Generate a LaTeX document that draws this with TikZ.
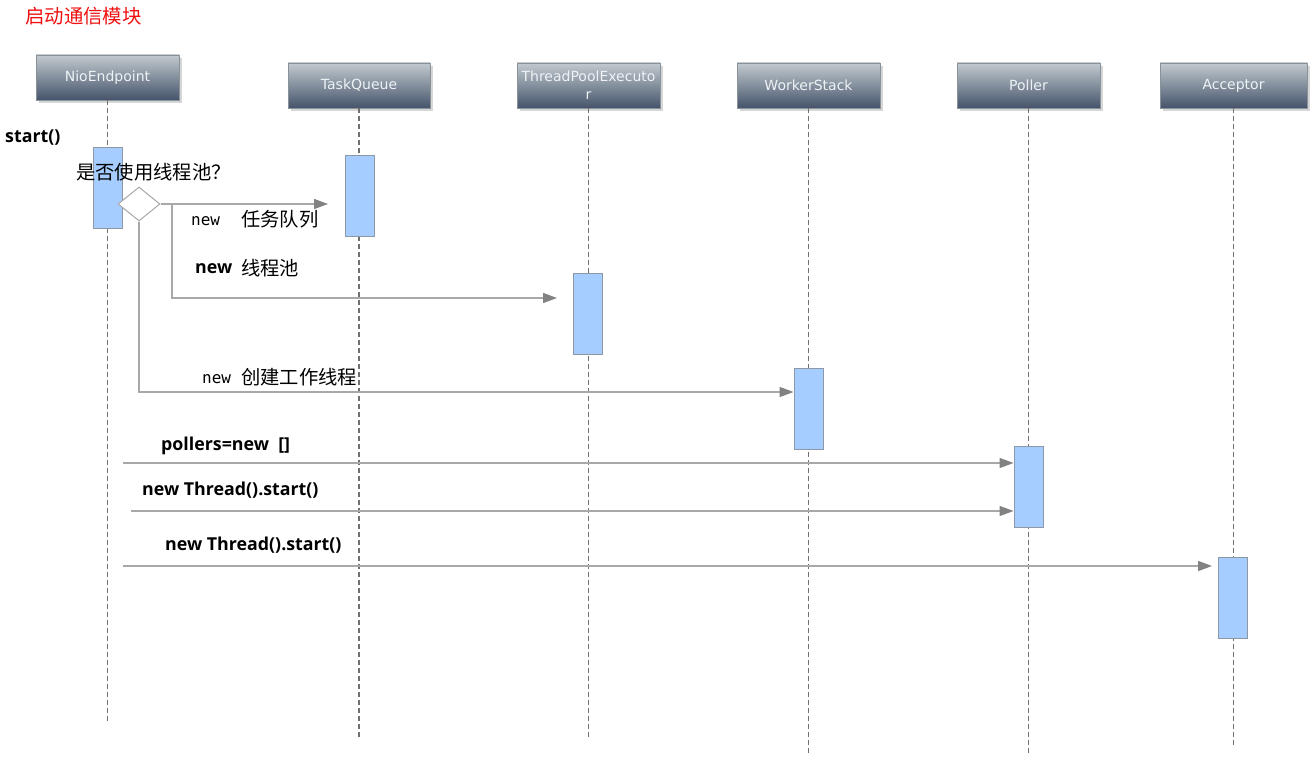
\documentclass[tikz,border=0pt]{standalone}
\usepackage{fontspec}
\usetikzlibrary{arrows.meta,shapes.geometric,shadows}
\newfontfamily\hdrfont{DejaVu Sans}
\newfontfamily\cjkfont{Noto Sans CJK SC}
\newfontfamily\lblfont{Open Sans}
\newfontfamily\codefont{DejaVu Sans Mono}
\definecolor{hdrtop}{HTML}{C2CACF}
\definecolor{hdrbot}{HTML}{45546B}
\definecolor{hdrline}{HTML}{8A9299}
\definecolor{hdrtext}{HTML}{EEF2F5}
\definecolor{barfill}{HTML}{A6CDFF}
\definecolor{barline}{HTML}{8C98A6}
\definecolor{lifegray}{HTML}{707070}
\definecolor{msggray}{HTML}{A8A8A8}
\definecolor{tipgray}{HTML}{828282}
\definecolor{titlered}{HTML}{F01010}
\begin{document}
\begin{tikzpicture}[x=1pt,y=-1pt,
  hdr/.style={minimum width=143pt,minimum height=45pt,inner sep=0pt,
    top color=hdrtop,bottom color=hdrbot,draw=hdrline,line width=0.8pt,
    text=hdrtext,align=center,font=\hdrfont\fontsize{14}{18}\selectfont,
    drop shadow={shadow xshift=3pt,shadow yshift=-3pt,fill=black!20,opacity=0.8}},
  bar/.style={draw=barline,fill=barfill,line width=0.9pt,minimum width=29pt,minimum height=81pt,inner sep=0pt},
  life/.style={draw=lifegray,line width=1.3pt,dash pattern=on 5pt off 3pt},
  msg/.style={draw=msggray,line width=1.3pt,-{Triangle[length=14pt,width=10pt,color=tipgray]}},
  lbl/.style={anchor=west,inner sep=0pt,font=\lblfont\bfseries\fontsize{17.8}{20}\selectfont},
  cjk/.style={anchor=west,inner sep=0pt,font=\cjkfont\fontsize{19.3}{21}\selectfont},
  code/.style={anchor=west,inner sep=0pt,font=\codefont\fontsize{16}{18}\selectfont}
]
\useasboundingbox (0,0) rectangle (1316,760);
\fill[white] (0,0) rectangle (1316,760);

% title
\node[anchor=west,inner sep=0pt,text=titlered,font=\cjkfont\fontsize{19.4}{21}\selectfont] (title) at (25,16) {启动通信模块};

% headers
\node[hdr] (nio) at (107.5,77.5) {NioEndpoint};
\node[hdr,minimum width=142pt] (tq) at (359,85.5) {TaskQueue};
\node[hdr] (tp) at (588.5,85.5) {ThreadPoolExecuto\\r};
\node[hdr] (ws) at (808.5,85.5) {WorkerStack};
\node[hdr] (pl) at (1028.5,85.5) {Poller};
\node[hdr,minimum width=147pt] (ac) at (1233.5,85.5) {Acceptor};

% lifeline ends
\coordinate (nioend) at (107.5,722);
\coordinate (tqend) at (359,738);
\coordinate (tpend) at (588.5,738);
\coordinate (wsend) at (808.5,754);
\coordinate (plend) at (1028.5,754);
\coordinate (acend) at (1233.5,746);
\draw[life] (nio.south) -- (nioend);
\draw[life] (tq.south) -- (tqend);
\draw[life] (tp.south) -- (tpend);
\draw[life] (ws.south) -- (wsend);
\draw[life] (pl.south) -- (plend);
\draw[life] (ac.south) -- (acend);

% activation bars
\node[bar] (niobar) at (107.5,188) {};
\node[bar] (tqbar) at (359.5,195.5) {};
\node[bar] (tpbar) at (588,314) {};
\node[bar] (wsbar) at (808.5,408.5) {};
\node[bar] (plbar) at (1028.5,486.5) {};
\node[bar] (acbar) at (1233,597.5) {};

% decision diamond
\node[shape=diamond,draw=msggray,fill=white,line width=1pt,inner sep=0pt,
  minimum width=42pt,minimum height=34pt] (dia) at (139,204) {};

% message levels
\coordinate (e1) at (328,204);
\coordinate (b2) at (172,204);
\coordinate (e2) at (557,298);
\coordinate (m3) at (0,392);
\coordinate (s4) at (123,463);
\coordinate (s5) at (131,511);
\coordinate (s6) at (123,566);
\coordinate (e6) at (1212,566);

\draw[msg] (dia.east) -- (e1);
\draw[msg] (b2) |- (e2);
\draw[msg] (dia.south) |- (wsbar.west |- m3);
\draw[msg] (s4) -- (plbar.west |- s4);
\draw[msg] (s5) -- (plbar.west |- s5);
\draw[msg] (s6) -- (e6);

% labels
\node[lbl] (lstart) at (5,138) {start()};
\node[cjk] (lq) at (76,172) {是否使用线程池？};
\node[code] (ln1) at (191,221) {new};
\node[cjk] (lc1) at (241,219) {任务队列};
\node[lbl] (ln2) at (195,269) {new};
\node[cjk] (lc2) at (241,268) {线程池};
\node[code] (ln3) at (202,379) {new};
\node[cjk] (lc3) at (241,377) {创建工作线程};
\node[lbl] (lp) at (161,446) {pollers=new\ \ []};
\node[lbl] (lt1) at (142,490) {new Thread().start()};
\node[lbl] (lt2) at (165,545) {new Thread().start()};
\end{tikzpicture}
\end{document}
